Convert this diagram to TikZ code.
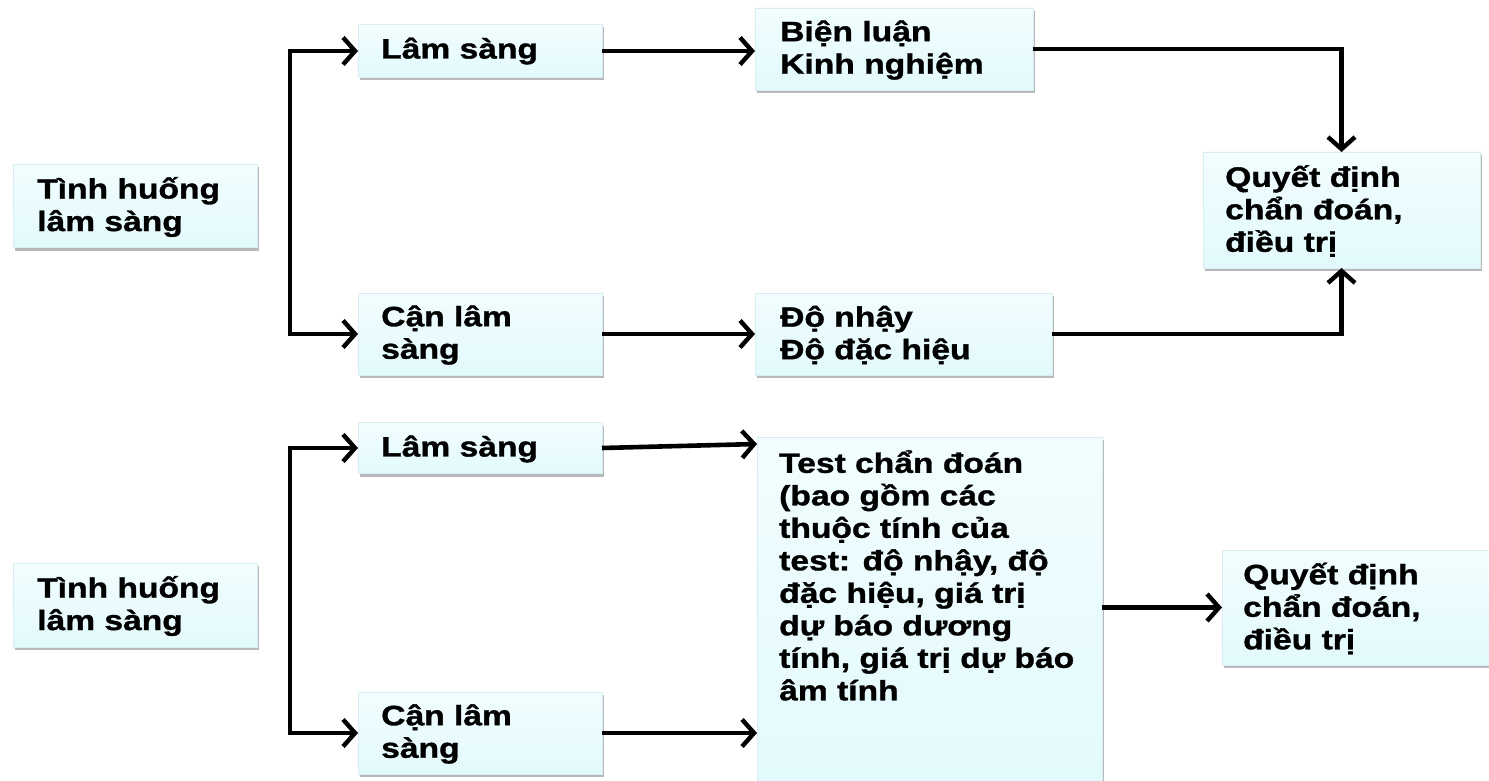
\documentclass[tikz,border=0pt]{standalone}
\usepackage{fontspec}
\newfontfamily\boxfont{Liberation Sans}[FakeStretch=1.2,FakeBold=1.2]
\usetikzlibrary{arrows.meta,shadows,positioning}
\tikzset{
  bx/.style={rectangle, draw=boxline, line width=0.6pt,
    top color=boxtop, bottom color=boxbot,
    drop shadow={shadow xshift=1.5pt, shadow yshift=-3pt, opacity=0.5, fill=black!55},
    inner xsep=0pt, inner ysep=0pt, outer sep=0pt},
  txt/.style={align=left, inner sep=0pt, font=\boxfont\bfseries\fontsize{28}{32.5}\selectfont},
  arr/.style={line width=4.6pt, -{Straight Barb[length=12pt,width=27pt,line width=4.4pt]}, line join=miter},
  ln/.style={line width=4.6pt}
}
\definecolor{boxtop}{HTML}{F2FDFE}
\definecolor{boxbot}{HTML}{E2FAFD}
\definecolor{boxline}{HTML}{D8EEF1}
\begin{document}
\begin{tikzpicture}[x=1pt,y=-1pt]
\useasboundingbox (0,0) rectangle (1489,781);
% ---------- upper diagram ----------
\node[bx, minimum width=244pt, minimum height=83pt] (A1) at (135,206) {};
\node[txt, anchor=west] (A1t) at (37,207) {Tình huống\\lâm sàng};
\node[bx, minimum width=244pt, minimum height=53pt] (B1) at (480,51) {};
\node[txt, anchor=west] (B1t) at (381,51) {Lâm sàng};
\node[bx, minimum width=278pt, minimum height=82pt] (C1) at (894,49) {};
\node[txt, anchor=west] (C1t) at (780,50) {Biện luận\\Kinh nghiệm};
\node[bx, minimum width=277pt, minimum height=116pt] (D1) at (1341.5,210) {};
\node[txt, anchor=west] (D1t) at (1225,211) {Quyết định\\chẩn đoán,\\điều trị};
\node[bx, minimum width=244pt, minimum height=82pt] (B2) at (480,334) {};
\node[txt, anchor=west] (B2t) at (381,335) {Cận lâm\\sàng};
\node[bx, minimum width=297pt, minimum height=82pt] (C2) at (903.5,334) {};
\node[txt, anchor=west] (C2t) at (780,335) {Độ nhậy\\Độ đặc hiệu};
\coordinate (j1) at (290,190);
\draw[arr] (j1) |- (B1.west);
\draw[arr] (j1) |- (B2.west);
\draw[arr] (B1.east) -- (C1.west |- B1.east);
\draw[arr] (B2.east) -- (C2.west);
\draw[arr] (C1.east) -| (D1.north);
\draw[arr] (C2.east) -| (D1.south);
% ---------- lower diagram ----------
\node[bx, minimum width=244pt, minimum height=84pt] (A2) at (135,605) {};
\node[txt, anchor=west] (A2t) at (37,606) {Tình huống\\lâm sàng};
\node[bx, minimum width=244pt, minimum height=51pt] (B3) at (480,448) {};
\node[txt, anchor=west] (B3t) at (381,449) {Lâm sàng};
\node[bx, minimum width=244pt, minimum height=82pt] (B4) at (480,733) {};
\node[txt, anchor=west] (B4t) at (381,734) {Cận lâm\\sàng};
\node[bx, minimum width=345pt, minimum height=360pt] (C3) at (929.5,617) {};
\node[txt, anchor=north west] (C3t) at (779,450) {Test chẩn đoán\\(bao gồm các\\thuộc tính của\\test: độ nhậy, độ\\đặc hiệu, giá trị\\dự báo dương\\tính, giá trị dự báo\\âm tính};
\node[bx, minimum width=268pt, minimum height=115pt] (D2) at (1356,607.5) {};
\node[txt, anchor=west] (D2t) at (1243,608.5) {Quyết định\\chẩn đoán,\\điều trị};
\coordinate (j2) at (290,590);
\draw[arr] (j2) |- (B3.west);
\draw[arr] (j2) |- (B4.west);
\draw[arr] (B3.east) -- (C3.west |- 0,444);
\draw[arr] (B4.east) -- (C3.west |- B4.east);
\draw[arr] (C3.east |- D2.west) -- (D2.west);
\end{tikzpicture}
\end{document}
